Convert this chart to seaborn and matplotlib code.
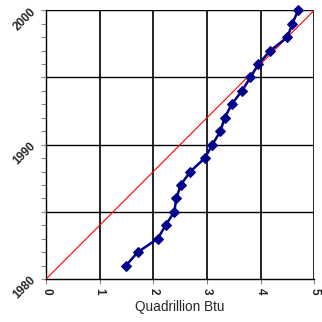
import matplotlib
matplotlib.use("Agg")
import matplotlib.pyplot as plt
import seaborn as sns
from matplotlib.ticker import MultipleLocator

# Consumption (quadrillion Btu) by year
years = [1981, 1982, 1983, 1984, 1985, 1986, 1987, 1988, 1989, 1990,
         1991, 1992, 1993, 1994, 1995, 1996, 1997, 1998, 1999, 2000]
btu = [1.49, 1.71, 2.08, 2.23, 2.39, 2.43, 2.51, 2.69, 2.96, 3.10,
       3.25, 3.33, 3.46, 3.65, 3.81, 3.96, 4.18, 4.50, 4.59, 4.70]

# reference diagonal
ref_x = [0, 5]
ref_y = [1980, 2000]

x_ticks = [0, 1, 2, 3, 4, 5]
y_ticks = [1980, 1990, 2000]

sns.set_style("white")
plt.rcParams["font.family"] = ["Liberation Sans", "DejaVu Sans"]

fig = plt.figure(figsize=(3.22, 3.22), dpi=100)
ax = fig.add_axes([0.143, 0.1335, 0.833, 0.8345])

sns.lineplot(x=ref_x, y=ref_y, color="red", linewidth=0.8, ax=ax, zorder=3)
sns.lineplot(x=btu, y=years, sort=False, color="#00008B", linewidth=1.8,
             marker="D", markersize=5.5, markeredgecolor="#00008B", ax=ax,
             zorder=4, clip_on=False)

ax.set_xlim(0, 5)
ax.set_ylim(1980, 2000)

ax.xaxis.set_major_locator(MultipleLocator(1))
ax.yaxis.set_major_locator(MultipleLocator(5))
ax.yaxis.set_minor_locator(MultipleLocator(1))
for v in range(1, 6):
    ax.axvline(v, color="#222222", linewidth=1.4, zorder=1)
for v in [1985, 1990, 1995, 2000]:
    ax.axhline(v, color="black", linewidth=1.0, zorder=1)

ax.set_xticks(x_ticks)
ax.set_xticklabels([str(t) for t in x_ticks], rotation=-90, fontsize=8.5, fontweight="bold")
ax.set_yticks(y_ticks)
ax.set_yticklabels([str(t) for t in y_ticks], rotation=45, fontsize=8.5, fontweight="bold")

ax.tick_params(axis="y", which="both", direction="out", left=True, length=3.5,
               width=0.8, color="#888888", pad=2)
ax.tick_params(axis="y", which="minor", length=3.5)
ax.tick_params(axis="x", bottom=True, direction="out", length=3.5, width=0.8,
               color="#888888", pad=3)

for s in ["top", "right"]:
    ax.spines[s].set_visible(False)
ax.spines["left"].set_color("black")
ax.spines["left"].set_linewidth(1.0)
ax.spines["bottom"].set_color("black")
ax.spines["bottom"].set_linewidth(1.0)

ax.set_xlabel("Quadrillion Btu", fontsize=9.8, labelpad=4)
ax.set_ylabel("")

fig.savefig("out.png", dpi=100)
